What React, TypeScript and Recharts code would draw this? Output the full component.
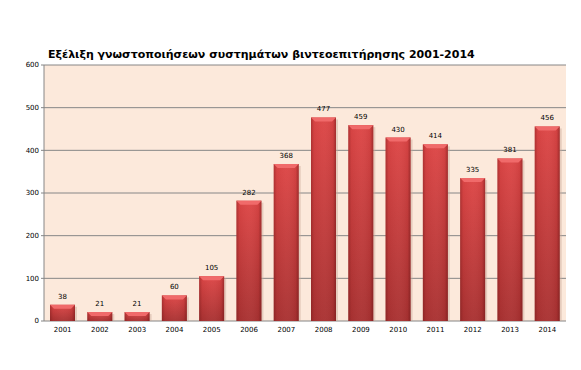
import React from 'react';
import { BarChart, Bar, XAxis, YAxis, CartesianGrid, LabelList } from 'recharts';

const years = ['2001', '2002', '2003', '2004', '2005', '2006', '2007', '2008', '2009', '2010', '2011', '2012', '2013', '2014'];
const notifications = [38, 21, 21, 60, 105, 282, 368, 477, 459, 430, 414, 335, 381, 456];
const yTicks = [0, 100, 200, 300, 400, 500, 600];
const boundaryTicks = years.map((_, i) => i).concat([years.length]);

const data = years.map((year, i) => ({ year, value: notifications[i], pos: i + 0.5 }));

const FONT = '"DejaVu Sans", Verdana, sans-serif';

const BevelBar = (props: any) => {
  const { x, y, width, height } = props;
  if (!height || height <= 0) return null;
  const cap = Math.min(4, height / 2);
  return (
    <g>
      <rect x={x + 2} y={y + 2} width={width} height={height - 2} fill="#C9A898" opacity={0.45} />
      <rect x={x} y={y} width={width} height={height} fill="url(#barV)" />
      <rect x={x} y={y} width={width} height={height} fill="url(#barH)" />
      <polygon
        points={`${x},${y} ${x + width},${y} ${x + width - cap},${y + cap} ${x + cap},${y + cap}`}
        fill="#F06A6A"
      />
    </g>
  );
};

export default function App() {
  return (
    <div style={{ position: 'absolute', left: 0, top: 0, width: 581, height: 370, background: '#fff' }}>
      <div
        style={{
          position: 'absolute',
          left: 48,
          top: 48,
          fontFamily: FONT,
          fontWeight: 'bold',
          fontSize: 11,
          color: '#000',
          whiteSpace: 'nowrap',
        }}
      >
        Εξέλιξη γνωστοποιήσεων συστημάτων βιντεοεπιτήρησης 2001-2014
      </div>
      <BarChart
        width={581}
        height={370}
        data={data}
        margin={{ top: 65, right: 15, left: 0, bottom: 19 }}
      >
        <defs>
          <linearGradient id="barV" x1="0" y1="0" x2="0" y2="1">
            <stop offset="0%" stopColor="#DD4646" />
            <stop offset="100%" stopColor="#A93232" />
          </linearGradient>
          <linearGradient id="barH" x1="0" y1="0" x2="1" y2="0">
            <stop offset="0%" stopColor="#5A1010" stopOpacity={0.35} />
            <stop offset="12%" stopColor="#5A1010" stopOpacity={0.05} />
            <stop offset="50%" stopColor="#FFFFFF" stopOpacity={0.03} />
            <stop offset="88%" stopColor="#5A1010" stopOpacity={0.08} />
            <stop offset="100%" stopColor="#5A1010" stopOpacity={0.45} />
          </linearGradient>
        </defs>
        <CartesianGrid vertical={false} stroke="#868686" fill="#FCE9DB" />
        <XAxis
          xAxisId="edges"
          type="number"
          dataKey="pos"
          domain={[0, years.length]}
          ticks={boundaryTicks}
          tickFormatter={() => ''}
          height={0}
          stroke="#868686"
          tickSize={3}
          interval={0}
        />
        <XAxis
          xAxisId="cat"
          dataKey="year"
          height={30}
          axisLine={false}
          tickLine={false}
          tick={{ fontSize: 7, fill: '#000', fontFamily: FONT }}
          interval={0}
          dy={-2}
        />
        <YAxis
          width={44}
          domain={[0, 600]}
          ticks={yTicks}
          stroke="#868686"
          tickSize={3}
          tick={{ fontSize: 7, fill: '#000', fontFamily: FONT }}
        />
        <Bar xAxisId="cat" dataKey="value" barSize={25} shape={<BevelBar />} isAnimationActive={false}>
          <LabelList dataKey="value" position="top" offset={6} fontSize={7} fill="#000" fontFamily={FONT} />
        </Bar>
      </BarChart>
    </div>
  );
}
